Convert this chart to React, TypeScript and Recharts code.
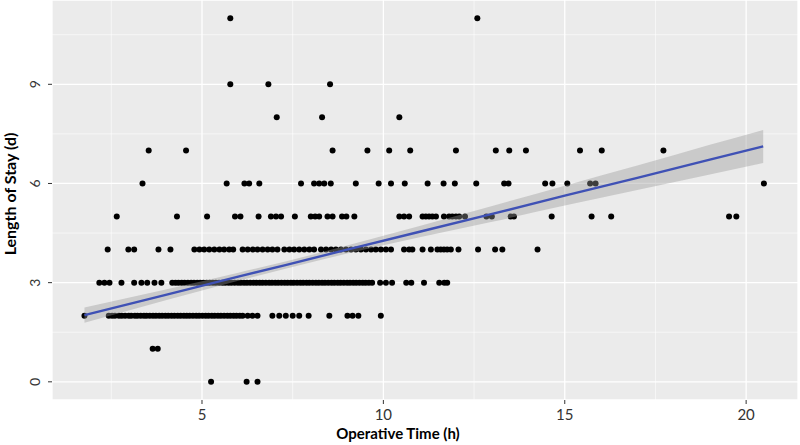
import { ComposedChart, XAxis, YAxis, CartesianGrid, Scatter, Area, Line, ReferenceLine, Label } from 'recharts';

// operative time (h) of each patient, grouped by length of stay (d)
const stay0 = [5.25, 6.23, 6.53];
const stay1 = [3.64, 3.78];
const stay2 = [
  1.76, 2.43, 2.52, 2.6, 2.71, 2.79, 2.88, 2.98, 3.05, 3.15, 3.22, 3.31, 3.4, 3.47, 3.56, 3.65, 3.73,
  3.82, 3.9, 3.99, 4.07, 4.16, 4.24, 4.33, 4.41, 4.5, 4.58, 4.66, 4.75, 4.84, 4.92, 5.01, 5.1, 5.18,
  5.27, 5.35, 5.44, 5.52, 5.61, 5.7, 5.78, 5.87, 5.95, 6.04, 6.12, 6.26, 6.39, 6.53, 6.94, 7.13, 7.31,
  7.5, 7.68, 7.94, 8.51, 9.01, 9.15, 9.31, 9.93,
];
const stay3 = [
  2.17, 2.31, 2.45, 2.78, 3.13, 3.33, 3.49, 3.69, 3.88, 4.18, 4.27, 4.35, 4.44, 4.52, 4.61, 4.7, 4.78,
  4.87, 4.95, 5.04, 5.13, 5.21, 5.3, 5.38, 5.47, 5.56, 5.64, 5.73, 5.81, 5.9, 5.99, 6.07, 6.16, 6.24,
  6.33, 6.42, 6.5, 6.59, 6.67, 6.76, 6.85, 6.93, 7.02, 7.1, 7.19, 7.28, 7.36, 7.45, 7.53, 7.62, 7.71,
  7.79, 7.88, 7.96, 8.05, 8.14, 8.22, 8.31, 8.39, 8.48, 8.57, 8.65, 8.74, 8.82, 8.91, 9.0, 9.08, 9.17,
  9.25, 9.34, 9.43, 9.51, 9.6, 9.69, 9.91, 10.07, 10.24, 10.63, 10.77, 11.12, 11.54, 11.68, 11.76,
];
const stay4 = [
  2.4, 2.97, 3.13, 3.8, 4.13, 4.79, 4.93, 5.06, 5.2, 5.34, 5.48, 5.61, 5.75, 5.86, 6.12, 6.26, 6.4,
  6.53, 6.67, 6.81, 6.94, 7.08, 7.27, 7.41, 7.54, 7.68, 7.82, 7.96, 8.09, 8.28, 8.42, 8.56, 8.69, 8.83,
  8.97, 9.11, 9.24, 9.38, 9.52, 9.66, 9.79, 9.93, 10.07, 10.21, 10.57, 10.71, 10.8, 11.08, 11.31, 11.49,
  11.58, 11.67, 11.76, 11.86, 12.07, 12.61, 13.08, 13.28, 14.25,
];
const stay5 = [
  2.65, 4.31, 5.14, 5.91, 6.06, 6.56, 6.9, 7.04, 7.18, 7.56, 8.0, 8.12, 8.23, 8.46, 8.6, 8.86, 8.98,
  9.2, 10.44, 10.57, 10.71, 11.08, 11.17, 11.26, 11.35, 11.45, 11.67, 11.81, 11.9, 12.0, 12.09, 12.25,
  12.84, 12.99, 13.51, 13.6, 14.64, 15.74, 16.28, 19.53, 19.73,
];
const stay6 = [
  3.36, 5.68, 6.17, 6.3, 6.58, 7.73, 8.09, 8.23, 8.37, 8.55, 9.24, 9.87, 10.21, 10.59, 11.22, 11.66,
  11.97, 12.56, 13.33, 13.45, 14.46, 14.66, 15.07, 15.7, 15.85, 20.49,
];
const stay7 = [3.53, 4.56, 8.6, 9.56, 10.16, 10.74, 12.0, 13.1, 13.47, 13.93, 15.42, 16.02, 17.72];
const stay8 = [7.06, 8.31, 10.44];
const stay9 = [5.78, 6.83, 8.53];
const stay11 = [5.78, 12.59];

const stayGroups: [number, number[]][] = [
  [0, stay0], [1, stay1], [2, stay2], [3, stay3], [4, stay4], [5, stay5],
  [6, stay6], [7, stay7], [8, stay8], [9, stay9], [11, stay11],
];
const patients = stayGroups.flatMap(([y, xs]) => xs.map((x) => ({ x, y })));

// linear fit with 95% band
const fitX = [1.76, 4, 6, 7.3, 9, 11, 13, 15, 17, 19, 20.47];
const fitY = [2.02, 2.63, 3.18, 3.53, 4.0, 4.54, 5.08, 5.63, 6.17, 6.72, 7.12];
const fitLow = [1.79, 2.47, 3.06, 3.42, 3.88, 4.37, 4.84, 5.33, 5.8, 6.27, 6.62];
const fitHigh = [2.25, 2.79, 3.3, 3.64, 4.12, 4.71, 5.32, 5.93, 6.54, 7.17, 7.62];
const fit = fitX.map((x, i) => ({ x, fit: fitY[i], band: [fitLow[i], fitHigh[i]] }));

const xTicks = [5, 10, 15, 20];
const yTicks = [0, 3, 6, 9];
const xMinor = [2.5, 7.5, 12.5, 17.5];
const yMinor = [1.5, 4.5, 7.5, 10.5];

const font = 'Lato, "Open Sans", sans-serif';

const XTick = ({ x, payload }: any) => (
  <text x={x} y={420} textAnchor="middle" fontSize={15} fontFamily={font} fill="#333">
    {payload.value}
  </text>
);

const YTick = ({ y, payload }: any) => (
  <text x={40} y={y} transform={`rotate(-90, 40, ${y})`} textAnchor="middle" fontSize={14} fontFamily={font} fill="#333">
    {payload.value}
  </text>
);

const Dot = (props: any) => <circle cx={props.cx} cy={props.cy} r={3} fill="#000" />;

export default function App() {
  return (
    <div style={{ position: 'absolute', left: 0, top: 0, width: 800, height: 445, background: '#fff' }}>
      <ComposedChart width={800} height={445} data={fit} margin={{ top: 0, right: 2, bottom: 0, left: 0 }}>
        <CartesianGrid fill="#EBEBEB" stroke="#fff" strokeWidth={1.3} />
        {xMinor.map((v) => (
          <ReferenceLine key={'x' + v} x={v} stroke="#fff" strokeWidth={0.6} />
        ))}
        {yMinor.map((v) => (
          <ReferenceLine key={'y' + v} y={v} stroke="#fff" strokeWidth={0.6} />
        ))}
        <XAxis
          type="number"
          dataKey="x"
          domain={[0.865, 21.43]}
          ticks={xTicks}
          allowDataOverflow
          axisLine={false}
          tickLine={{ stroke: '#333' }}
          tickSize={4}
          height={45}
          tick={<XTick />}
        >
          <Label
            content={() => (
              <text x={398} y={439} textAnchor="middle" fontSize={15} fontWeight="bold" fontFamily={font} fill="#000">
                Operative Time (h)
              </text>
            )}
          />
        </XAxis>
        <YAxis
          type="number"
          domain={[-0.55, 11.55]}
          ticks={yTicks}
          allowDataOverflow
          axisLine={false}
          tickLine={{ stroke: '#333' }}
          tickSize={4}
          width={52}
          tick={<YTick />}
        >
          <Label
            content={() => (
              <text x={16} y={194} transform="rotate(-90, 16, 194)" textAnchor="middle" fontSize={16} fontWeight="bold" fontFamily={font} fill="#000">
                Length of Stay (d)
              </text>
            )}
          />
        </YAxis>
        <Scatter data={patients} dataKey="y" shape={<Dot />} isAnimationActive={false} />
        <Area
          dataKey="band"
          type="monotone"
          fill="#999"
          fillOpacity={0.4}
          stroke="none"
          isAnimationActive={false}
          zIndex={700}
        />
        <Line dataKey="fit" type="linear" stroke="#3F51B5" strokeWidth={2.4} dot={false} isAnimationActive={false} zIndex={800} />
      </ComposedChart>
    </div>
  );
}
